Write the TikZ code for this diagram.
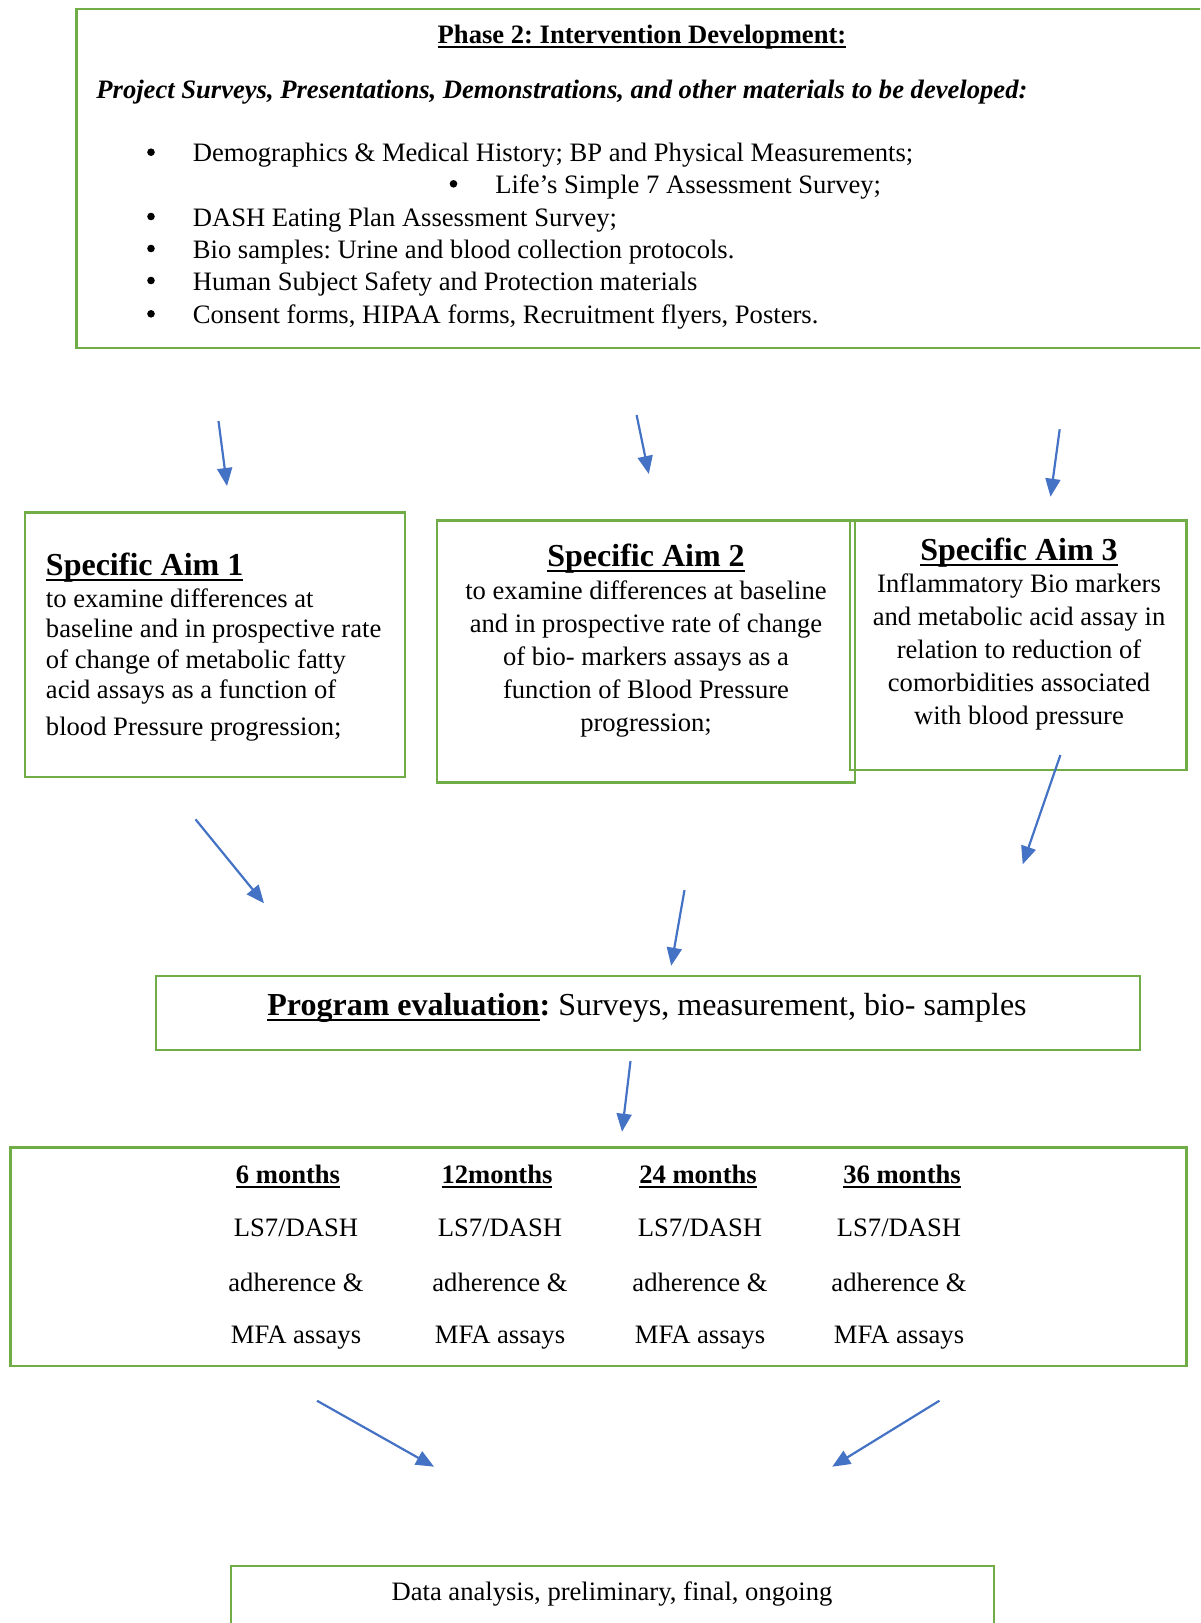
\documentclass[tikz,border=0pt]{standalone}
\usepackage{fontspec}
\setmainfont{Liberation Serif}
\frenchspacing
\usetikzlibrary{arrows.meta, positioning, fit}
\definecolor{boxgreen}{HTML}{70AD47}
\definecolor{arrowblue}{HTML}{4472C4}
\newcommand{\heavyul}[1]{\setbox0=\hbox{#1}\leavevmode\rlap{\copy0}\rule[-0.19em]{\wd0}{0.075em}}

\begin{document}
\begin{tikzpicture}[x=0.5pt, y=-0.5pt, >={Triangle[length=9pt, width=7.5pt]}]
    \tikzset{box/.style={draw=boxgreen, line width=1.4pt, inner sep=0pt},
        txt/.style={inner sep=0pt, font=\fontsize{13.3}{16.2}\selectfont},
        dot/.style={circle, fill=black, inner sep=0pt, minimum size=3.8pt},
        aimtitle/.style={inner sep=0pt, font=\fontsize{16}{19}\selectfont\bfseries},
        flow/.style={->, draw=arrowblue, fill=arrowblue, line width=1.1pt}
    }
    \useasboundingbox (0,0) rectangle (1200,1623);
    \clip (0,0) rectangle (1200,1623);

    % phase 2 box
    \node (Phase-Box) [box, fit={(76.6,9) (1215,348)}] {};
    \node (Phase-Title) [txt, anchor=base] at (642,43.3) {\bfseries\heavyul{Phase 2: Intervention Development:}};
    \node (Phase-Sub) [txt, anchor=base west] at (96,98) {\bfseries\itshape Project Surveys, Presentations, Demonstrations, and other materials to be developed:};
    \foreach \y/\bx/\t [count=\i] in {161.7/151/{Demographics \& Medical History; BP and Physical Measurements;},
        193.3/453.5/{Life’s Simple 7 Assessment Survey;},
        226/151/{DASH Eating Plan Assessment Survey;},
        258/151/{Bio samples: Urine and blood collection protocols.},
        290/151/{Human Subject Safety and Protection materials},
        323.3/151/{Consent forms, HIPAA forms, Recruitment flyers, Posters.}} {
        \node (Dot\i) [dot] at (\bx,\y-9.5) {};
        \node (Item\i) [txt, anchor=base west] at (\bx+41.5,\y) {\t};
    }

    % specific aims (multi-line texts sit on their last line)
    \node (Aim1-Box) [box, fit={(25,512.5) (405,777)}] {};
    \node (Aim1-Title) [aimtitle, anchor=base west] at (45.6,575) {\heavyul{Specific Aim 1}};
    \node (Aim1-Text) [txt, font=\fontsize{13.3}{15.25}\selectfont, align=left, anchor=base west] at (45.6,735)
        {to examine differences at\\ baseline and in prospective rate\\ of change of metabolic fatty\\ acid assays as a function of\\[3pt] blood Pressure progression;};

    \node (Aim2-Box) [box, fit={(437,520.5) (855,782.5)}] {};
    \node (Aim2-Title) [aimtitle, anchor=base] at (646,566) {\heavyul{Specific Aim 2}};
    \node (Aim2-Text) [txt, font=\fontsize{13.3}{16.5}\selectfont, align=center, anchor=base] at (646,731.7)
        {to examine differences at baseline\\ and in prospective rate of change\\ of bio- markers assays as a\\ function of Blood Pressure\\ progression;};

    \node (Aim3-Box) [box, fit={(850,520.5) (1186.6,770)}] {};
    \node (Aim3-Title) [aimtitle, anchor=base] at (1019,560) {\heavyul{Specific Aim 3}};
    \node (Aim3-Text) [txt, font=\fontsize{13.3}{16.4}\selectfont, align=center, anchor=base] at (1019,724)
        {Inflammatory Bio markers\\ and metabolic acid assay in\\ relation to reduction of\\ comorbidities associated\\ with blood pressure};

    % evaluation
    \node (Eval-Box) [box, fit={(156,976) (1140,1050)}] {};
    \node (Eval-Text) [txt, font=\fontsize{16}{19}\selectfont, anchor=base] at (647,1015)
        {\textbf{\heavyul{Program evaluation}:} Surveys, measurement, bio- samples};

    \node (Months-Box) [box, fit={(10.4,1147.3) (1186.6,1366)}] {};
    \foreach \x/\hx/\m [count=\i] in {296/288/6 months, 500/497/12months, 700/698/24 months, 899/902/36 months} {
        \node (M\i-Head) [txt, anchor=base] at (\hx,1183.3) {\bfseries\heavyul{\m}};
        \node (M\i-Plan) [txt, anchor=base] at (\x,1236.7) {LS7/DASH};
        \node (M\i-Adh) [txt, anchor=base] at (\x,1291.7) {adherence \&};
        \node (M\i-Assay) [txt, anchor=base] at (\x,1343.5) {MFA assays};
    }

    \node (Data-Box) [box, fit={(231,1566) (994,1640)}] {};
    \node (Data-Text) [txt, anchor=base] at (612,1600) {Data analysis, preliminary, final, ongoing};

    % arrows
    \foreach \n/\sx/\sy/\ex/\ey in {A1/218.5/421/227/486, A2/636.6/415/648.8/474, A3/1059.7/429.3/1050.5/496.7,
        B1/195.5/819.3/264/903.3, B2/684.5/890/671.2/965.7, B3/1060.4/755/1022.7/864.3,
        C1/630.5/1061/622/1131.7, D1/317/1400.7/434/1466.7, D2/939.4/1400.7/832.2/1466.7} {
        \coordinate (\n-s) at (\sx,\sy);
        \coordinate (\n-e) at (\ex,\ey);
        \draw [flow] (\n-s) -- (\n-e);
    }
\end{tikzpicture}
\end{document}
